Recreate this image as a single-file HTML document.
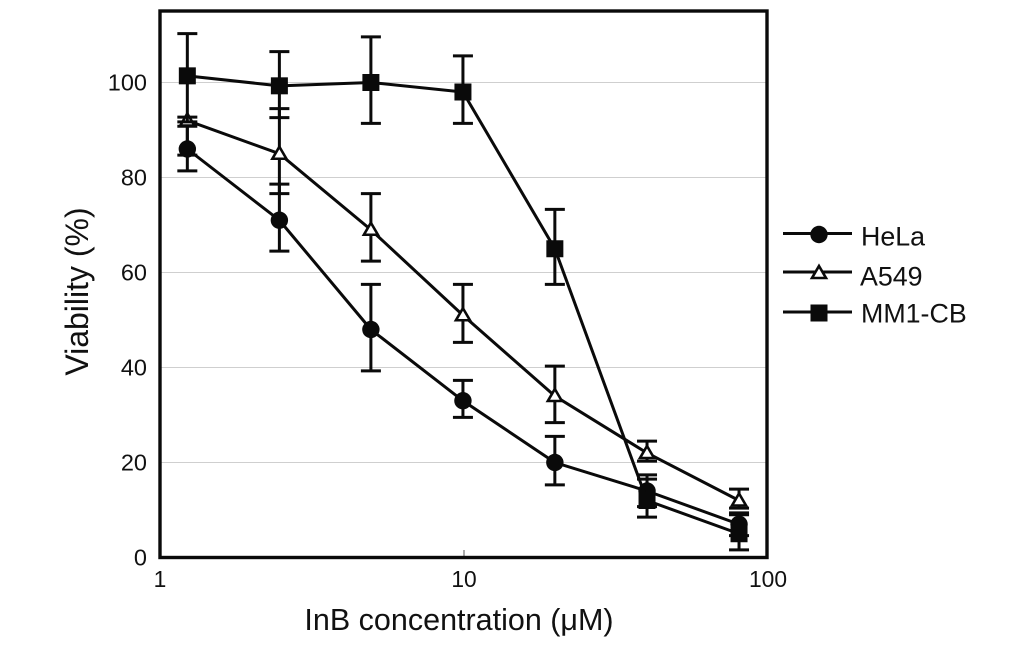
<!DOCTYPE html>
<html lang="en">
<head>
<meta charset="utf-8">
<title>Viability vs InB concentration</title>
<style>
html,body{margin:0;padding:0;background:#fff;}
svg{display:block;font-family:"Liberation Sans",Arial,sans-serif;}
</style>
</head>
<body>
<svg id="chart" width="1033" height="646" viewBox="0 0 1033 646" xmlns="http://www.w3.org/2000/svg"></svg>
<script>
// Data
const concentrations = [1.23, 2.47, 4.94, 9.92, 19.9, 40, 80.3];
const helaValues = [86, 71, 48, 33, 20, 14, 7];
const helaHigh = [90.8, 78.6, 57.5, 37.3, 25.5, 17.4, 9.4];
const helaLow = [81.4, 64.5, 39.3, 29.5, 15.3, 10.7, 4.6];
const a549Values = [92, 85, 69, 51, 34, 22, 12];
const a549High = [92.7, 94.5, 76.6, 57.5, 40.3, 24.5, 14.4];
const a549Low = [84.7, 76.6, 62.4, 45.3, 28.4, 20.3, 10.4];
const mm1Values = [101.4, 99.3, 100, 98, 65, 12, 5];
const mm1High = [110.3, 106.5, 109.6, 105.6, 73.3, 16.5, 9];
const mm1Low = [91.7, 92.6, 91.4, 91.4, 57.5, 8.5, 1.6];
const yTicks = [0, 20, 40, 60, 80, 100];
const gridValues = [20, 40, 60, 80, 100];
const xTicks = [1, 10, 100];

const svg = document.getElementById('chart');
const NS = 'http://www.w3.org/2000/svg';
const plot = {left: 160, right: 767, top: 11, bottom: 557.5};
function xScale(v){ return plot.left + 304 * Math.log10(v); }
function yScale(v){ return plot.bottom - 4.75 * v; }

function make(parent, tag, attrs, text){
  const el = document.createElementNS(NS, tag);
  for (const k in attrs) el.setAttribute(k, attrs[k]);
  if (text !== undefined) el.textContent = text;
  parent.appendChild(el);
  return el;
}

function drawMarker(g, kind, cx, cy, name){
  let m;
  if (kind === 'circle') {
    m = make(g, 'circle', {cx: cx, cy: cy, r: 8.7, fill: '#0a0a0a'});
  } else if (kind === 'square') {
    m = make(g, 'rect', {x: cx - 8.5, y: cy - 8.5, width: 17, height: 17, fill: '#0a0a0a'});
  } else {
    m = make(g, 'polygon', {points: (cx) + ',' + (cy - 7) + ' ' + (cx + 7) + ',' + (cy + 5) + ' ' + (cx - 7) + ',' + (cy + 5), fill: '#fff', stroke: '#0a0a0a', 'stroke-width': 2.6});
  }
  
  
}

// Gridlines
gridValues.forEach(function(v){
  const line = make(svg, 'line', {x1: plot.left, x2: plot.right, y1: yScale(v), y2: yScale(v), stroke: '#cfcfcf', 'stroke-width': 1});
  
  
});

// Minor tick at 10
const midTick = make(svg, 'line', {x1: xScale(10), x2: xScale(10), y1: 550, y2: plot.bottom, stroke: '#555', 'stroke-width': 1});



// Series
function drawSeries(name, kind, values, high, low){
  const g = make(svg, 'g', {});
  
  
  values.forEach(function(v, i){
    const x = xScale(concentrations[i]);
    const err = make(g, 'path', {
      d: 'M' + x + ' ' + yScale(high[i]) + 'V' + yScale(low[i]) +
         'M' + (x - 10) + ' ' + yScale(high[i]) + 'H' + (x + 10) +
         'M' + (x - 10) + ' ' + yScale(low[i]) + 'H' + (x + 10),
      fill: 'none', stroke: '#0a0a0a', 'stroke-width': 3
    });
    
    
  });
  const pts = values.map(function(v, i){ return xScale(concentrations[i]) + ',' + yScale(v); }).join(' ');
  const line = make(g, 'polyline', {points: pts, fill: 'none', stroke: '#0a0a0a', 'stroke-width': 3});
  
  
  values.forEach(function(v, i){
    drawMarker(g, kind, xScale(concentrations[i]), yScale(v), 'point-' + name + '-' + i);
  });
}
drawSeries('hela', 'circle', helaValues, helaHigh, helaLow);
drawSeries('a549', 'triangle', a549Values, a549High, a549Low);
drawSeries('mm1-cb', 'square', mm1Values, mm1High, mm1Low);

// Plot frame
const frame = make(svg, 'rect', {x: plot.left, y: plot.top, width: plot.right - plot.left, height: plot.bottom - plot.top, fill: 'none', stroke: '#0a0a0a', 'stroke-width': 3.4});



// Tick labels
yTicks.forEach(function(v){
  const t = make(svg, 'text', {x: 147, y: yScale(v) + 8, 'text-anchor': 'end', 'font-size': 23.5, fill: '#111'}, String(v));
  
  
});
xTicks.forEach(function(v){
  const t = make(svg, 'text', {x: xScale(v), y: 587, 'text-anchor': 'middle', 'font-size': 22.8, fill: '#111'}, String(v));
  
  
});

// Axis titles
const xTitle = make(svg, 'text', {x: 459, y: 630, 'text-anchor': 'middle', 'font-size': 30.5, fill: '#111'}, 'InB concentration (μM)');


const yTitle = make(svg, 'text', {x: 0, y: 0, transform: 'translate(88,291.5) rotate(-90)', 'text-anchor': 'middle', 'font-size': 32, fill: '#111'}, 'Viability (%)');



// Legend
const legendNames = ['HeLa', 'A549', 'MM1-CB'];
const legendKinds = ['circle', 'triangle', 'square'];
const legendRowY = [233.5, 272, 312];
const legendBaselineY = [245.5, 285.5, 322.5];
const legendLabelX = [861, 860, 861];
legendNames.forEach(function(name, i){
  const g = make(svg, 'g', {});
  
  
  const y = legendRowY[i];
  make(g, 'line', {x1: 783, x2: 852, y1: y, y2: y, stroke: '#0a0a0a', 'stroke-width': 3});
  drawMarker(g, legendKinds[i], 819, y + 1, 'legend-marker-' + name.toLowerCase());
  const t = make(g, 'text', {x: legendLabelX[i], y: legendBaselineY[i], 'font-size': 26.8, fill: '#111'}, name);
  
  
});
</script>
</body>
</html>
